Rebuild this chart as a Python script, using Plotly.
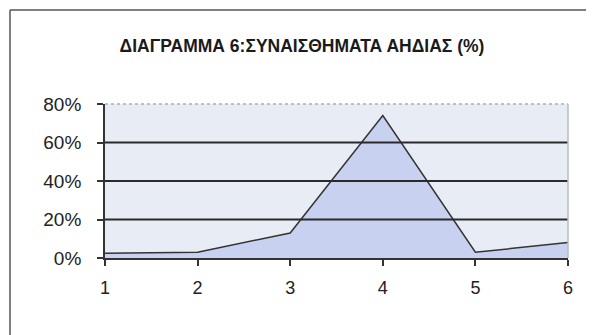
import plotly.graph_objects as go

categories = [1, 2, 3, 4, 5, 6]
values = [0.025, 0.03, 0.13, 0.74, 0.03, 0.08]
y_ticks = [0, 0.2, 0.4, 0.6, 0.8]
y_tick_labels = ["0%", "20%", "40%", "60%", "80%"]
title_text = "ΔΙΑΓΡΑΜΜΑ 6:ΣΥΝΑΙΣΘΗΜΑΤΑ ΑΗΔΙΑΣ (%)"

# page body has an 8px default margin, so the figure is sized to fit the window
OFF = 8
W, H = 594 - OFF, 335 - OFF
L, R, T, B = 105 - OFF, 26, 104 - OFF, 77
pw, ph = W - L - R, H - T - B

fig = go.Figure()
fig.add_trace(go.Scatter(
    x=categories, y=values, mode="lines", fill="tozeroy",
    line=dict(color="#333333", width=1.5),
    fillcolor="#c8d2f0", hoverinfo="skip", showlegend=False,
))

shapes = []
for g in [0.2, 0.4, 0.6]:
    shapes.append(dict(type="line", xref="paper", yref="y", x0=0, x1=1, y0=g, y1=g,
                       line=dict(color="#2a2a2a", width=1.8), layer="above"))
# top and right plot border (light)
shapes.append(dict(type="line", xref="paper", yref="paper", x0=0, x1=1, y0=1, y1=1,
                   line=dict(color="#a8adb8", width=1.5, dash="dot")))
shapes.append(dict(type="line", xref="paper", yref="paper", x0=1, x1=1, y0=0, y1=1,
                   line=dict(color="#b8bcc6", width=1.5)))
# outer chart frame: top and left edges only
fx0 = (10 - OFF - L) / pw
fx1 = (W + 20 - L) / pw
fy_top = 1 + (T - (10 - OFF)) / ph
fy_bot = -(B + 20) / ph
shapes.append(dict(type="line", xref="paper", yref="paper", x0=fx0, x1=fx1, y0=fy_top, y1=fy_top,
                   line=dict(color="#555555", width=1.5)))
shapes.append(dict(type="line", xref="paper", yref="paper", x0=fx0, x1=fx0, y0=fy_bot, y1=fy_top,
                   line=dict(color="#555555", width=1.5)))

fig.update_layout(
    width=W, height=H,
    margin=dict(l=L, r=R, t=T, b=B),
    paper_bgcolor="#ffffff", plot_bgcolor="#e8ecf4",
    font=dict(family="Liberation Sans, Arial, sans-serif", color="#222222"),
    title=dict(text="<b>" + title_text + "</b>", x=(302 - OFF) / W, xanchor="center",
               y=1 - (46 - OFF) / H, yanchor="middle", font=dict(size=17.5, color="#1a1a1a")),
    shapes=shapes,
    xaxis=dict(range=[1, 6], tickvals=categories, ticks="outside", ticklen=6, tickwidth=1.5,
               tickcolor="#333333", showline=True, linecolor="#333333", linewidth=1.8,
               showgrid=False, zeroline=False, tickfont=dict(size=18), fixedrange=True,
               ticklabelstandoff=6),
    yaxis=dict(range=[0, 0.8], tickvals=y_ticks, ticktext=y_tick_labels, ticks="outside",
               ticklen=6, tickwidth=1.5, tickcolor="#333333", showline=True,
               linecolor="#333333", linewidth=1.8, showgrid=False, zeroline=False,
               tickfont=dict(size=19), fixedrange=True, ticklabelstandoff=12),
)

fig.write_html("out.html")
